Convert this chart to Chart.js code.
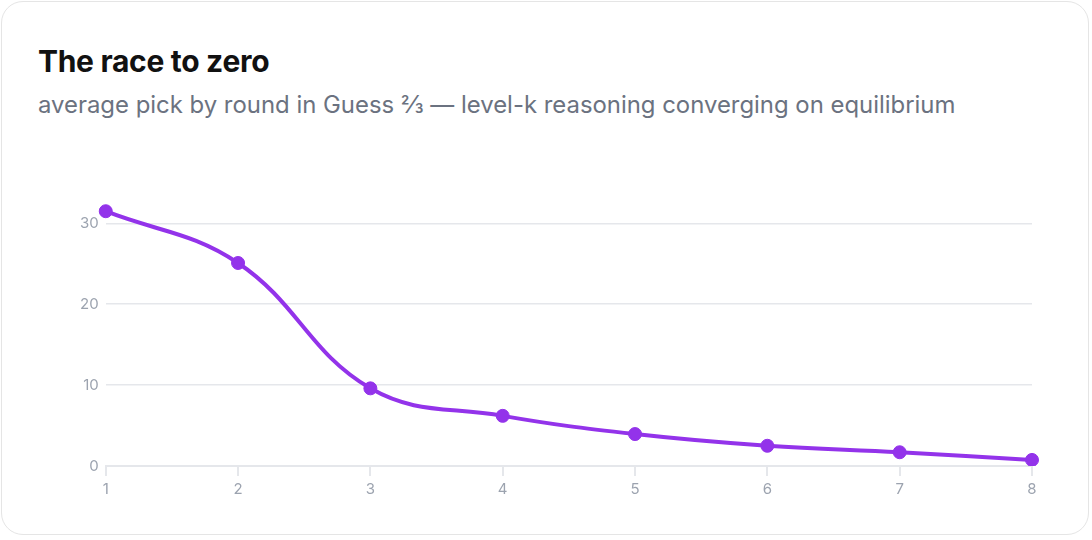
<!DOCTYPE html>
<html>
<head>
<meta charset="utf-8">
<script src="https://cdn.jsdelivr.net/npm/chart.js@4/dist/chart.umd.min.js"></script>
<style>
  html, body { margin: 0; padding: 0; background: #fff; }
  body { width: 1092px; height: 540px; position: relative; font-family: Inter, "Noto Sans", sans-serif; }
  .card {
    position: absolute; left: 1px; top: 1px; width: 1088px; height: 534px;
    border: 1px solid #e5e5e5; border-radius: 22px; box-sizing: border-box;
  }
  h1 { position: absolute; left: 38px; top: 43px; margin: 0; font-size: 30px; font-weight: 700; color: #111; letter-spacing: -0.3px; line-height: 36px; }
  p { position: absolute; left: 38px; top: 90px; margin: 0; font-size: 23.9px; color: #6b7280; line-height: 30px; }
  .chart-wrap { position: absolute; left: 73px; top: 175px; width: 981px; height: 327px; }
</style>
</head>
<body>
<div class="card"></div>
<h1>The race to zero</h1>
<p>average pick by round in Guess ⅔ — level-k reasoning converging on equilibrium</p>
<div class="chart-wrap"><canvas id="race-chart"></canvas></div>
<script>
const ROUNDS = ["1", "2", "3", "4", "5", "6", "7", "8"];
const AVERAGE_PICK = [31.5, 25.1, 9.6, 6.2, 3.95, 2.5, 1.7, 0.75];
const Y_TICKS = [0, 10, 20, 30];

const LINE_COLOR = "#9333ea";
const GRID_COLOR = "#e5e7eb";
const TICK_COLOR = "#9ca3af";

document.addEventListener("DOMContentLoaded", () => mount());

function mount() {
  const ctx = document.getElementById("race-chart").getContext("2d");
  new Chart(ctx, {
    type: "line",
    data: {
      labels: ROUNDS,
      datasets: [
        {
          label: "average pick",
          data: AVERAGE_PICK,
          borderColor: LINE_COLOR,
          backgroundColor: LINE_COLOR,
          borderWidth: 4,
          tension: 0.4,
          pointRadius: 6.5,
          pointBorderWidth: 1,
          pointBackgroundColor: LINE_COLOR,
          pointBorderColor: LINE_COLOR,
        },
      ],
    },
    options: {
      responsive: true,
      maintainAspectRatio: false,
      animation: false,
      layout: { padding: { right: 22, top: 0 } },
      plugins: {
        legend: { display: false },
        tooltip: { enabled: false },
      },
      scales: {
        x: {
          offset: false,
          grid: { drawOnChartArea: false, drawTicks: true, tickLength: 10, color: GRID_COLOR, lineWidth: 2 },
          border: { display: true, color: GRID_COLOR, width: 2 },
          ticks: { color: TICK_COLOR, font: { family: "Inter", size: 15 }, padding: 4 },
        },
        y: {
          min: 0,
          max: 34,
          afterBuildTicks: (axis) => {
            axis.ticks = Y_TICKS.map((v) => ({ value: v }));
          },
          grid: { color: GRID_COLOR, drawTicks: false, lineWidth: 1.5 },
          border: { display: false },
          ticks: { color: TICK_COLOR, font: { family: "Inter", size: 15 }, padding: 7 },
        },
      },
    },
  });
}
</script>
</body>
</html>
